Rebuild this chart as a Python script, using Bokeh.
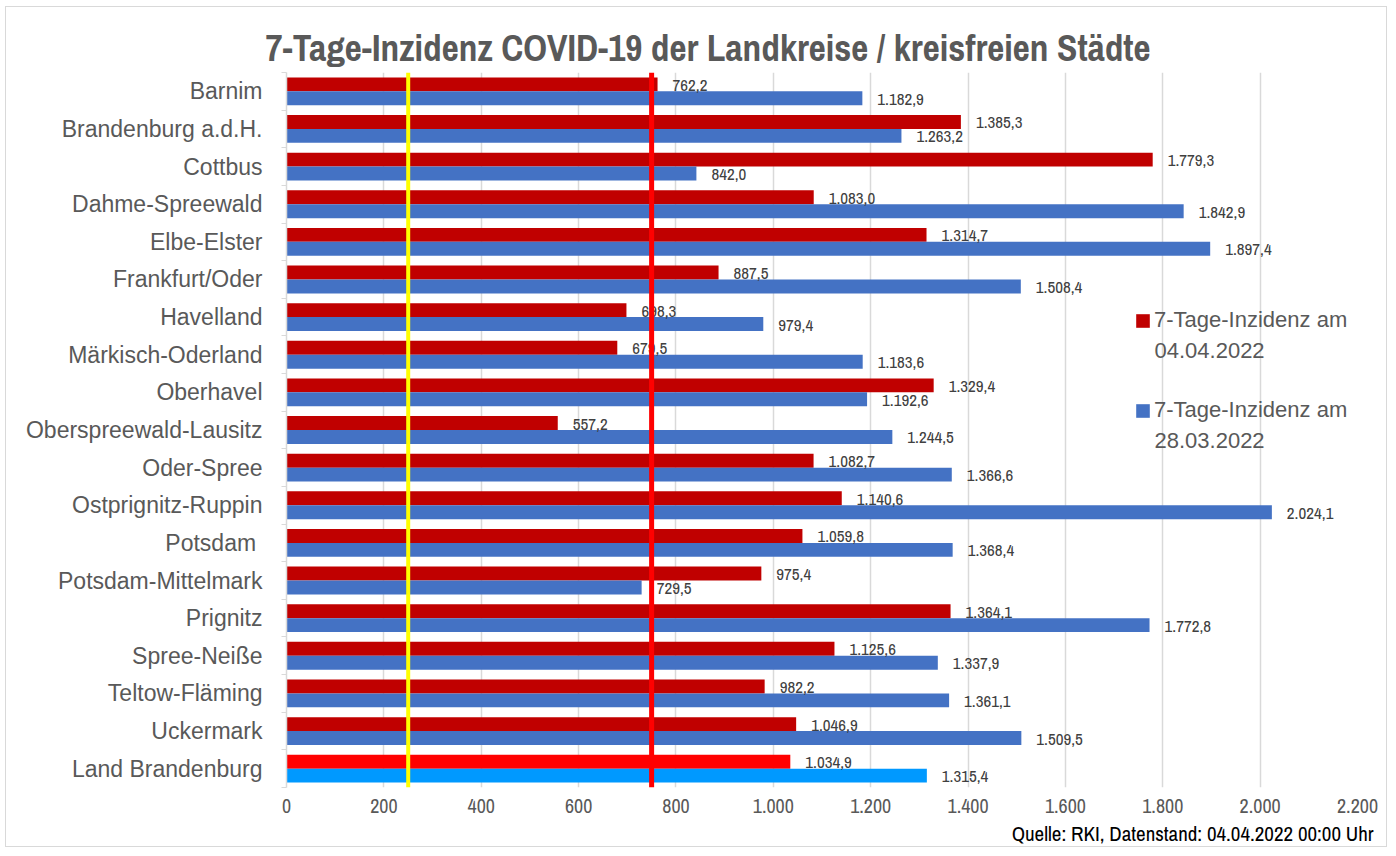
from bokeh.plotting import figure
from bokeh.models import (ColumnDataSource, Range1d, FixedTicker, Span, Label,
                          Legend, LegendItem, Title)
from bokeh.core.properties import value
from bokeh.embed import file_html
from bokeh.resources import INLINE

categories = ["Barnim", "Brandenburg a.d.H.", "Cottbus", "Dahme-Spreewald", "Elbe-Elster",
              "Frankfurt/Oder", "Havelland", "Märkisch-Oderland", "Oberhavel",
              "Oberspreewald-Lausitz", "Oder-Spree", "Ostprignitz-Ruppin", "Potsdam ",
              "Potsdam-Mittelmark", "Prignitz", "Spree-Neiße", "Teltow-Fläming",
              "Uckermark", "Land Brandenburg"]
inz_0404 = [762.2, 1385.3, 1779.3, 1083.0, 1314.7, 887.5, 698.3, 679.5, 1329.4, 557.2,
            1082.7, 1140.6, 1059.8, 975.4, 1364.1, 1125.6, 982.2, 1046.9, 1034.9]
inz_2803 = [1182.9, 1263.2, 842.0, 1842.9, 1897.4, 1508.4, 979.4, 1183.6, 1192.6, 1244.5,
            1366.6, 2024.1, 1368.4, 729.5, 1772.8, 1337.9, 1361.1, 1509.5, 1315.4]
x_ticks = [0, 200, 400, 600, 800, 1000, 1200, 1400, 1600, 1800, 2000, 2200]
series_line1 = ["7-Tage-Inzidenz am", "7-Tage-Inzidenz am"]
series_line2 = ["04.04.2022", "28.03.2022"]
threshold_yellow = 250
threshold_red = 750
title_text = "7-Tage-Inzidenz COVID-19 der Landkreise / kreisfreien Städte"
source_text = "Quelle: RKI, Datenstand: 04.04.2022 00:00 Uhr"

RED, BLUE = "#C00000", "#4472C4"
RED_LAND, BLUE_LAND = "#FF0000", "#0099FF"
GRAY = "#595959"
NARROW = "Archivo Narrow"
SANS = "Liberation Sans"


def de(v, dec=1):
    s = f"{v:,.{dec}f}"
    return s.replace(",", "X").replace(".", ",").replace("X", ".")


n = len(categories)
idx = list(range(n))
bar_h = 0.37
red_colors = [RED] * (n - 1) + [RED_LAND]
blue_colors = [BLUE] * (n - 1) + [BLUE_LAND]

src_red = ColumnDataSource(dict(y=[i - bar_h / 2 for i in idx], v=inz_0404,
                                c=red_colors, lab=[de(v) for v in inz_0404]))
src_blue = ColumnDataSource(dict(y=[i + bar_h / 2 for i in idx], v=inz_2803,
                                 c=blue_colors, lab=[de(v) for v in inz_2803]))

p = figure(width=1382, height=841, output_backend="svg", toolbar_location=None,
           x_range=Range1d(0, 2200), y_range=Range1d(n - 0.5, -0.5),
           min_border_left=280, min_border_right=31, min_border_top=65,
           min_border_bottom=58, outline_line_color=None,
           background_fill_color="white", border_fill_color="white")
p.styles = {"border": "1.5px solid #D9D9D9", "margin-left": "5px", "margin-top": "6px"}

p.title = Title(text=title_text, align="left", offset=-21, standoff=0,
                text_font=NARROW, text_font_size="37.3px", text_font_style="bold",
                text_color=GRAY)
p.add_layout(Title(text=source_text, align="right", offset=-16, standoff=2,
                   text_font=NARROW, text_font_size="21px", text_font_style="normal",
                   text_color="black"), "below")

r_red = p.hbar(y="y", left=0, right="v", height=bar_h, fill_color="c", line_color=None,
               source=src_red)
r_blue = p.hbar(y="y", left=0, right="v", height=bar_h, fill_color="c", line_color=None,
                source=src_blue)

for src in (src_red, src_blue):
    p.text(x="v", y="y", text="lab", source=src, x_offset=15, y_offset=1,
           text_align="left", text_baseline="middle", text_font=value(NARROW),
           text_font_size="17px", text_color="#404040")

p.add_layout(Span(location=threshold_yellow, dimension="height", line_color="#FFFF00",
                  line_width=4))
p.add_layout(Span(location=threshold_red, dimension="height", line_color="#FF0000",
                  line_width=5))

# axes
p.xgrid.ticker = FixedTicker(ticks=x_ticks)
p.xgrid.grid_line_color = "#D9D9D9"
p.xgrid.grid_line_width = 1.5
p.ygrid.grid_line_color = None

p.xaxis.ticker = FixedTicker(ticks=x_ticks)
p.xaxis.major_label_overrides = {t: de(t, 0) for t in x_ticks}
p.xaxis.axis_line_color = None
p.xaxis.major_tick_line_color = None
p.xaxis.major_tick_out = 0
p.xaxis.minor_tick_line_color = None
p.xaxis.minor_tick_out = 0
p.xaxis.major_label_standoff = 11
p.xaxis.major_label_text_font = NARROW
p.xaxis.major_label_text_font_size = "20px"
p.xaxis.major_label_text_color = GRAY

p.yaxis.ticker = FixedTicker(ticks=idx, minor_ticks=[i - 0.5 for i in range(n + 1)])
p.yaxis.major_label_overrides = {i: c for i, c in zip(idx, categories)}
p.yaxis.axis_line_color = "#D9D9D9"
p.yaxis.axis_line_width = 1.5
p.yaxis.major_tick_line_color = None
p.yaxis.minor_tick_line_color = "#D9D9D9"
p.yaxis.minor_tick_out = 5
p.yaxis.minor_tick_in = 0
p.yaxis.major_label_standoff = 18
p.yaxis.major_label_text_font = SANS
p.yaxis.major_label_text_font_size = "23px"
p.yaxis.major_label_text_color = GRAY

legend = Legend(items=[LegendItem(label=series_line1[0], renderers=[r_red], index=0),
                       LegendItem(label=series_line1[1], renderers=[r_blue], index=0)],
                location=(848, 362), orientation="vertical",
                background_fill_alpha=0, border_line_color=None,
                label_text_font=SANS, label_text_font_size="22px",
                label_text_color=GRAY, label_height=30, label_text_baseline="middle",
                glyph_width=17, glyph_height=17, spacing=60, padding=0, margin=0,
                label_standoff=3)
p.add_layout(legend)
for k, txt in enumerate(series_line2):
    p.add_layout(Label(x=868, y=437 - 90 * k, x_units="screen", y_units="screen",
                       text=txt, text_align="left", text_baseline="middle",
                       text_font=SANS, text_font_size="22px", text_color=GRAY))

open("out.html", "w").write(file_html(p, INLINE))
